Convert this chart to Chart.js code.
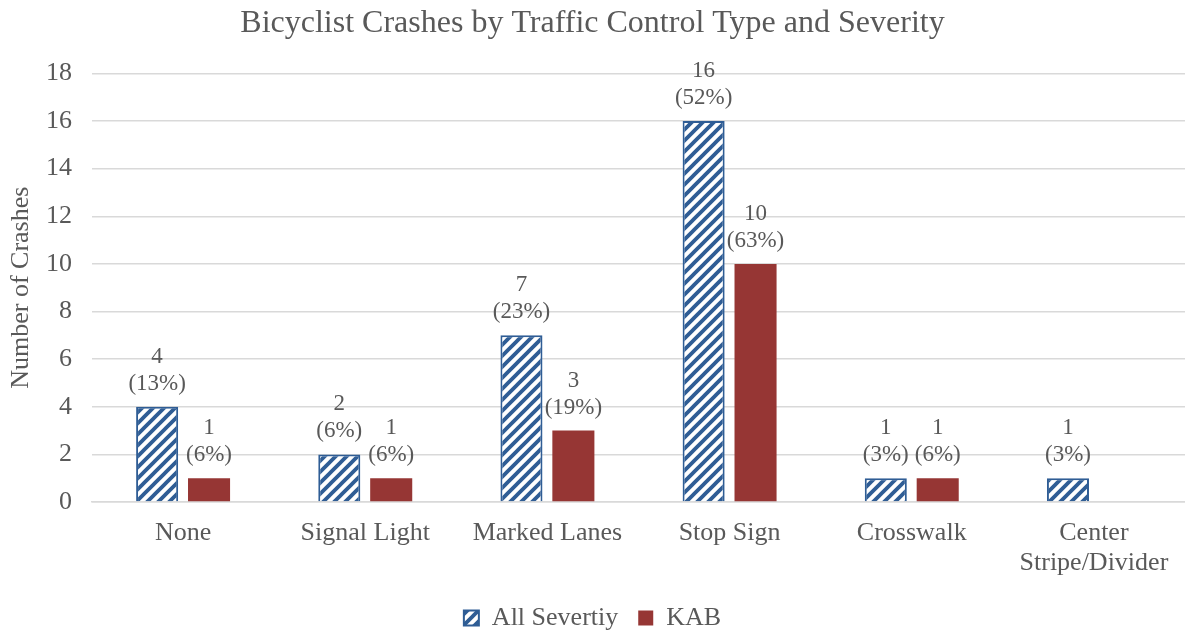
<!DOCTYPE html>
<html>
<head>
<meta charset="utf-8">
<script src="https://cdn.jsdelivr.net/npm/chart.js@4.4.1/dist/chart.umd.min.js"></script>
<style>
  body { margin: 0; background: #fff; }
  #wrap { width: 1185px; height: 632px; }
</style>
</head>
<body>
<div id="wrap"><canvas id="chart"></canvas></div>
<script>
const categories = ['None', 'Signal Light', 'Marked Lanes', 'Stop Sign', 'Crosswalk', ['Center', 'Stripe/Divider']];
const allSeverity = [4, 2, 7, 16, 1, 1];
const allPct = ['13%', '6%', '23%', '52%', '3%', '3%'];
const kab = [1, 1, 3, 10, 1, null];
const kabPct = ['6%', '6%', '19%', '63%', '6%', null];

const BLUE = '#2f5d95';
const RED = '#963634';
const GREY = '#595959';
const FONT = "'Liberation Serif', 'Times New Roman', serif";

// diagonal hatch for the "All" series
function makeHatch() {
  const size = 11;
  const c = document.createElement('canvas');
  c.width = size;
  c.height = size;
  const g = c.getContext('2d');
  g.fillStyle = '#fff';
  g.fillRect(0, 0, size, size);
  g.strokeStyle = BLUE;
  g.lineWidth = 3.8;
  g.beginPath();
  g.moveTo(-2, size + 2); g.lineTo(size + 2, -2);
  g.moveTo(-2, 2); g.lineTo(2, -2);
  g.moveTo(size - 2, size + 2); g.lineTo(size + 2, size - 2);
  g.stroke();
  return g.createPattern(c, 'repeat');
}
const hatch = makeHatch();

const labelPlugin = {
  id: 'barLabels',
  afterDatasetsDraw(chart) {
    const ctx = chart.ctx;
    const pcts = [allPct, kabPct];
    ctx.save();
    ctx.font = '23px ' + FONT;
    ctx.fillStyle = GREY;
    ctx.textAlign = 'center';
    ctx.textBaseline = 'middle';
    chart.data.datasets.forEach((ds, i) => {
      chart.getDatasetMeta(i).data.forEach((bar, j) => {
        if (ds.data[j] == null) return;
        ctx.fillText('(' + pcts[i][j] + ')', bar.x, bar.y - 23);
        ctx.fillText(String(ds.data[j]), bar.x, bar.y - 50);
      });
    });
    ctx.restore();
  }
};

new Chart(document.getElementById('chart'), {
  type: 'bar',
  data: {
    labels: categories,
    datasets: [
      {
        label: 'All Severtiy',
        data: allSeverity,
        backgroundColor: hatch,
        borderColor: BLUE,
        borderWidth: 2,
        barPercentage: 0.81,
        categoryPercentage: 0.57
      },
      {
        label: 'KAB',
        data: kab,
        backgroundColor: RED,
        borderWidth: 0,
        barPercentage: 0.81,
        categoryPercentage: 0.57
      }
    ]
  },
  plugins: [labelPlugin],
  options: {
    responsive: true,
    maintainAspectRatio: false,
    animation: false,
    // negative bottom padding pushes the legend down toward the canvas edge
    layout: { padding: { left: 0, right: 0, top: 4, bottom: -9 } },
    plugins: {
      title: {
        display: true,
        text: 'Bicyclist Crashes by Traffic Control Type and Severity',
        color: GREY,
        font: { family: FONT, size: 32, weight: 'normal' },
        padding: { top: 0, bottom: 31 }
      },
      legend: {
        position: 'bottom',
        labels: {
          color: GREY,
          font: { family: FONT, size: 26 },
          boxWidth: 15,
          boxHeight: 15,
          padding: 20
        }
      },
      tooltip: { enabled: false }
    },
    scales: {
      x: {
        grid: { display: false },
        border: { color: '#d9d9d9', width: 1.5 },
        ticks: {
          color: GREY,
          font: { family: FONT, size: 26, lineHeight: 1.15 },
          maxRotation: 0,
          autoSkip: false,
          padding: 8
        },
        afterFit(scale) { scale.height = 83; }
      },
      y: {
        min: 0,
        max: 18,
        ticks: {
          stepSize: 2,
          color: GREY,
          font: { family: FONT, size: 26 },
          padding: 20
        },
        grid: { color: '#d9d9d9', lineWidth: 1.5, drawTicks: false },
        border: { display: false },
        title: {
          display: true,
          text: 'Number of Crashes',
          color: GREY,
          font: { family: FONT, size: 26 },
          padding: { top: 6, bottom: 2 }
        },
        afterFit(scale) { scale.width = 92; }
      }
    }
  }
});
</script>
</body>
</html>
